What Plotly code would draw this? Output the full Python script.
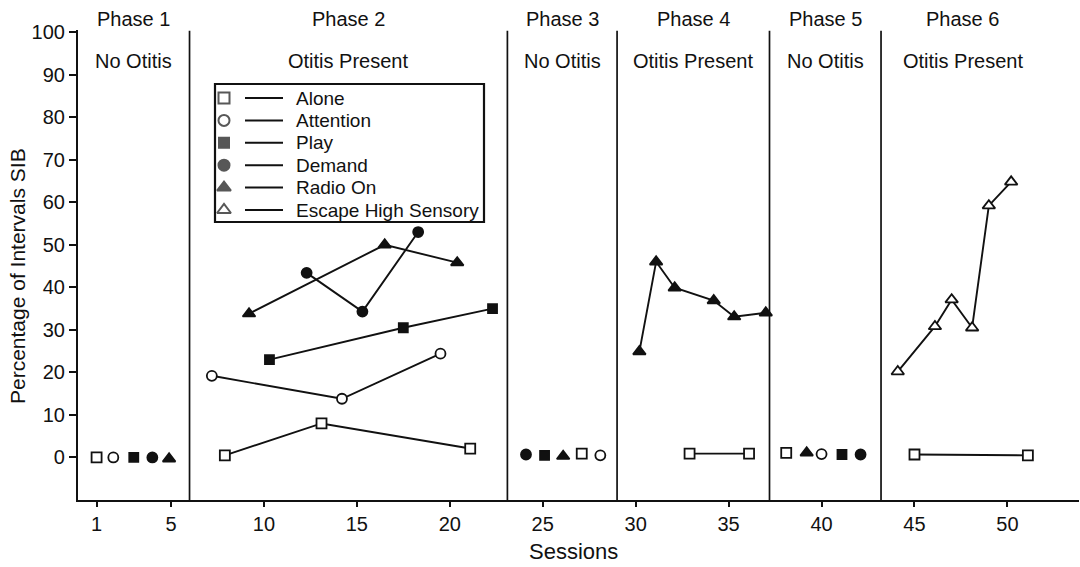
import plotly.graph_objects as go

# Percentage of intervals with SIB per session, one pair of lists per condition
alone_sessions = [1.0, 7.9, 13.1, 21.1, 27.1, 32.9, 36.1, 38.1, 45.0, 51.1]
alone_values = [0, 0.5, 8.0, 2.1, 0.9, 0.9, 0.9, 1.1, 0.7, 0.5]

attention_sessions = [1.9, 7.2, 14.2, 19.5, 28.1, 40.0]
attention_values = [0, 19.2, 13.8, 24.4, 0.5, 0.8]

play_sessions = [3.0, 10.3, 17.5, 22.3, 25.1, 41.1]
play_values = [0, 23.0, 30.5, 35.0, 0.5, 0.7]

demand_sessions = [4.0, 12.3, 15.3, 18.3, 24.1, 42.1]
demand_values = [0, 43.4, 34.3, 53.0, 0.7, 0.7]

radio_sessions = [4.9, 9.2, 16.5, 20.4, 26.1, 30.2, 31.1, 32.1, 34.2, 35.3, 37.0, 39.2]
radio_values = [-0.3, 33.8, 50.0, 45.8, 0.3, 24.9, 46.0, 39.9, 36.9, 33.1, 34.0, 1.1]

escape_sessions = [44.1, 46.1, 47.0, 48.1, 49.0, 50.2]
escape_values = [20.2, 30.8, 37.1, 30.5, 59.2, 64.8]

# Phase change lines (session positions) and phase headings
phase_breaks = [6.0, 23.1, 29.0, 37.2, 43.2]
phase_names = ["Phase 1", "Phase 2", "Phase 3", "Phase 4", "Phase 5", "Phase 6"]
phase_conditions = ["No Otitis", "Otitis Present", "No Otitis",
                    "Otitis Present", "No Otitis", "Otitis Present"]

x_ticks = [1, 5, 10, 15, 20, 25, 30, 35, 40, 45, 50]
y_ticks = [0, 10, 20, 30, 40, 50, 60, 70, 80, 90, 100]

# ---------------------------------------------------------------- layout constants
FONT = "Liberation Sans, Arial, sans-serif"
INK = "#111111"
W, H = 1080, 567
ML, MR, MT, MB = 78, 1, 30, 67
X_RANGE = [0, 53.85]
Y_RANGE = [-10, 100.5]
PHASE_START, PHASE_END = 0.0, 52.0


def split_by_phase(sessions, values):
    """Insert gaps so a series is never joined across a phase change line."""
    xs, ys = [], []
    for i, (s, v) in enumerate(zip(sessions, values)):
        if i > 0 and any(sessions[i - 1] < b < s for b in phase_breaks):
            xs.append(None)
            ys.append(None)
        xs.append(s)
        ys.append(v)
    return xs, ys


series = [
    ("Alone", alone_sessions, alone_values, "square", "white", 10),
    ("Attention", attention_sessions, attention_values, "circle", "white", 10),
    ("Play", play_sessions, play_values, "square", INK, 9),
    ("Demand", demand_sessions, demand_values, "circle", INK, 10),
    ("Radio On", radio_sessions, radio_values, "triangle-up", INK, 11),
    ("Escape High Sensory", escape_sessions, escape_values, "triangle-up", "white", 11),
]

fig = go.Figure()

for name, sx, sy, symbol, fill, size in series:
    xs, ys = split_by_phase(sx, sy)
    fig.add_trace(go.Scatter(
        x=xs, y=ys, name=name, mode="lines+markers", connectgaps=False,
        line=dict(color=INK, width=1.9),
        marker=dict(symbol=symbol, size=size, color=fill,
                    line=dict(color=INK, width=1.8)),
        showlegend=False, cliponaxis=False,
    ))

# Phase change lines
for b in phase_breaks:
    fig.add_shape(type="line", xref="x", yref="y", x0=b, x1=b,
                  y0=Y_RANGE[0], y1=100.3, line=dict(color=INK, width=1.7))

# Phase headings centred over each phase
edges = [PHASE_START] + phase_breaks + [PHASE_END]
for i, (pname, cond) in enumerate(zip(phase_names, phase_conditions)):
    cx = (edges[i] + edges[i + 1]) / 2
    fig.add_annotation(x=cx, xref="x", y=1, yref="paper", yshift=11,
                       text=pname, showarrow=False, xanchor="center",
                       yanchor="middle", font=dict(size=20, color=INK, family=FONT))
    fig.add_annotation(x=cx, xref="x", y=1, yref="paper", yshift=-31,
                       text=cond, showarrow=False, xanchor="center",
                       yanchor="middle", font=dict(size=20, color=INK, family=FONT))

# Key box drawn on a pixel-scaled overlay axis pair
plot_w = W - ML - MR
plot_h = H - MT - MB
key_left, key_right, key_top, key_bottom = 215, 484, 84, 222
key_rows = [98 + 22.4 * i for i in range(len(series))]
key_marker_x, key_line_x0, key_line_x1, key_text_x = 224, 245, 283, 294

fig.add_shape(type="rect", xref="x2", yref="y2", x0=key_left, x1=key_right,
              y0=key_top, y1=key_bottom, line=dict(color=INK, width=2.2),
              fillcolor="white", layer="below")
for (name, _, _, symbol, fill, size), ry in zip(series, key_rows):
    fig.add_shape(type="line", xref="x2", yref="y2", x0=key_line_x0,
                  x1=key_line_x1, y0=ry, y1=ry, line=dict(color=INK, width=2))
    fig.add_annotation(x=key_text_x, y=ry, xref="x2", yref="y2", text=name,
                       showarrow=False, xanchor="left", yanchor="middle",
                       font=dict(size=19, color=INK, family=FONT))

fig.add_trace(go.Scatter(
    x=[key_marker_x] * len(series), y=key_rows, mode="markers",
    xaxis="x2", yaxis="y2", showlegend=False, hoverinfo="skip",
    marker=dict(symbol=[s[3] for s in series], color=[s[4] for s in series],
                size=[s[5] + 1 for s in series], line=dict(color=INK, width=2)),
))

# Axis titles
fig.add_annotation(text="Percentage of Intervals SIB", textangle=-90,
                   xref="paper", x=0, xshift=-(ML - 17), yref="paper",
                   y=(H - MB - 276) / plot_h, showarrow=False,
                   xanchor="center", yanchor="middle",
                   font=dict(size=21, color=INK, family=FONT))
fig.add_annotation(text="Sessions", xref="paper", x=(573 - ML) / plot_w,
                   yref="paper", y=0, yshift=-51, showarrow=False,
                   xanchor="center", yanchor="middle",
                   font=dict(size=22, color=INK, family=FONT))

fig.update_layout(
    width=W, height=H,
    margin=dict(l=ML, r=MR, t=MT, b=MB, pad=0),
    paper_bgcolor="white", plot_bgcolor="white",
    font=dict(family=FONT, size=20, color=INK),
    showlegend=False,
    xaxis=dict(range=X_RANGE, tickvals=x_ticks, ticks="outside", ticklen=5,
               tickwidth=1.5, tickcolor=INK, showline=True, linewidth=2.2,
               linecolor=INK, showgrid=False, zeroline=False,
               tickfont=dict(size=20, color=INK, family=FONT)),
    yaxis=dict(range=Y_RANGE, tickvals=y_ticks, ticks="outside", ticklen=7,
               tickwidth=1.5, tickcolor=INK, showline=True, linewidth=2.2,
               linecolor=INK, showgrid=False, zeroline=False,
               tickfont=dict(size=20, color=INK, family=FONT)),
    xaxis2=dict(overlaying="x", range=[ML, W - MR], visible=False,
                showgrid=False, zeroline=False),
    yaxis2=dict(overlaying="y", range=[H - MB, MT], visible=False,
                showgrid=False, zeroline=False),
)

fig.write_html("out.html")
